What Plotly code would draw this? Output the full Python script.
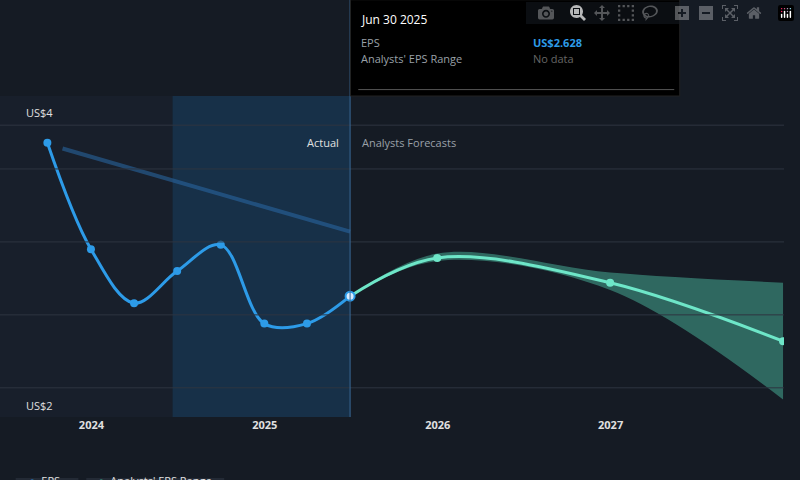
import plotly.graph_objects as go

eps_dates = ["2023-09-30", "2023-12-31", "2024-03-31", "2024-06-30", "2024-09-30",
             "2024-12-31", "2025-03-31", "2025-06-30"]
eps_vals = [3.68, 2.95, 2.58, 2.80, 2.98, 2.44, 2.44, 2.628]

fc_dates = ["2025-06-30", "2025-12-31", "2026-12-31", "2027-12-31"]
fc_vals = [2.628, 2.89, 2.72, 2.32]
fc_high = [2.628, 2.92, 2.79, 2.72]
fc_low = [2.628, 2.87, 2.67, 1.92]

past_dates = ["2023-11-01", "2025-06-30"]
past_vals = [3.64, 3.07]

bg = "#151b24"
fig = go.Figure()

fig.add_vrect(x0="2024-06-20", x1="2025-06-30", fillcolor="#1c4f80", opacity=0.4, line_width=0, layer="below")
fig.add_vrect(x0="2023-06-20", x1="2024-06-20", fillcolor="#1b2330", opacity=0.6, line_width=0, layer="below")

for v in [2.0, 2.5, 3.0, 3.5, 3.8]:
    fig.add_hline(y=v, line_color="#2e3540", line_width=1)

fig.add_trace(go.Scatter(x=past_dates, y=past_vals, mode="lines",
                         line=dict(color="#2a6aa8", width=4), opacity=0.55))
fig.add_trace(go.Scatter(x=fc_dates, y=fc_high, mode="lines", line_shape="spline",
                         line=dict(width=0, color="#3fbfa0")))
fig.add_trace(go.Scatter(x=fc_dates, y=fc_low, mode="lines", fill="tonexty", line_shape="spline",
                         fillcolor="rgba(80,200,170,0.45)", line=dict(width=0, color="#3fbfa0")))
fig.add_trace(go.Scatter(x=eps_dates, y=eps_vals, mode="lines+markers", line_shape="spline",
                         line=dict(color="#2d9be8", width=3), marker=dict(size=8, color="#2d9be8")))
fig.add_trace(go.Scatter(x=fc_dates, y=fc_vals, mode="lines+markers", line_shape="spline",
                         line=dict(color="#6ee6c8", width=3), marker=dict(size=8, color="#6ee6c8")))
fig.add_trace(go.Scatter(x=["2025-06-30"], y=[2.628], mode="markers",
                         marker=dict(size=9, color="#d9ecff", line=dict(color="#2d9be8", width=2))))

fig.add_shape(type="line", xref="x", yref="paper", x0="2025-06-30", x1="2025-06-30", y0=0, y1=1.3,
              line=dict(color="#3a6a96", width=1))
fig.add_shape(type="rect", xref="paper", yref="paper", x0=0.447, x1=0.867, y0=1.0, y1=1.3,
              fillcolor="#000000", line=dict(color="#222", width=1))
fig.add_shape(type="line", xref="paper", yref="paper", x0=0.457, x1=0.86, y0=1.02, y1=1.02,
              line=dict(color="#555", width=1))

ann = [
    (0.458, 1.27, "Jun 30 2025", "#ffffff", 12),
    (0.458, 1.195, "EPS", "#9aa0a8", 11),
    (0.458, 1.145, "Analysts' EPS Range", "#9aa0a8", 11),
    (0.677, 1.195, "<b>US$2.628</b>", "#2d9be8", 11),
    (0.677, 1.145, "No data", "#666", 11),
]
for x, y, t, c, s in ann:
    fig.add_annotation(x=x, y=y, xref="paper", yref="paper", text=t, showarrow=False,
                       xanchor="left", font=dict(color=c, size=s))

fig.add_annotation(x="2025-06-10", y=3.68, text="Actual", showarrow=False, xanchor="right",
                   font=dict(color="#e0e0e0", size=11))
fig.add_annotation(x="2025-07-20", y=3.68, text="Analysts Forecasts", showarrow=False, xanchor="left",
                   font=dict(color="#9aa0a8", size=11))
fig.add_annotation(x=0.03, y=3.89, xref="paper", text="US$4", showarrow=False, xanchor="left",
                   font=dict(color="#e0e0e0", size=11))
fig.add_annotation(x=0.03, y=1.88, xref="paper", text="US$2", showarrow=False, xanchor="left",
                   font=dict(color="#e0e0e0", size=11))

# legend boxes
fig.add_shape(type="rect", xref="paper", yref="paper", x0=0.02, x1=0.1, y0=-0.265, y1=-0.19,
              fillcolor="#232a35", line_width=0)
fig.add_shape(type="rect", xref="paper", yref="paper", x0=0.11, x1=0.286, y0=-0.265, y1=-0.19,
              fillcolor="#232a35", line_width=0)
fig.add_annotation(x=0.035, y=-0.228, xref="paper", yref="paper", showarrow=False, xanchor="left",
                   text="<span style='color:#2d9be8'>●</span>  EPS", font=dict(color="#e0e0e0", size=11))
fig.add_annotation(x=0.122, y=-0.228, xref="paper", yref="paper", showarrow=False, xanchor="left",
                   text="<span style='color:#3fbfa0'>●</span>  Analysts' EPS Range", font=dict(color="#e0e0e0", size=11))

fig.update_layout(
    width=800, height=480, paper_bgcolor=bg, plot_bgcolor=bg, showlegend=False,
    margin=dict(l=0, r=16, t=96, b=63),
    font=dict(family="Open Sans", color="#e0e0e0"),
    xaxis=dict(range=["2023-06-22", "2028-01-02"], showgrid=False, zeroline=False,
               tickvals=["2024-01-01", "2025-01-01", "2026-01-01", "2027-01-01"],
               ticktext=["<b>2024</b>", "<b>2025</b>", "<b>2026</b>", "<b>2027</b>"],
               tickfont=dict(size=11, color="#e0e0e0")),
    yaxis=dict(range=[1.8, 4.0], showgrid=False, zeroline=False, showticklabels=False),
)
fig.write_html("out.html", post_script="document.body.style.margin='0';document.body.style.background='#151b24';")
